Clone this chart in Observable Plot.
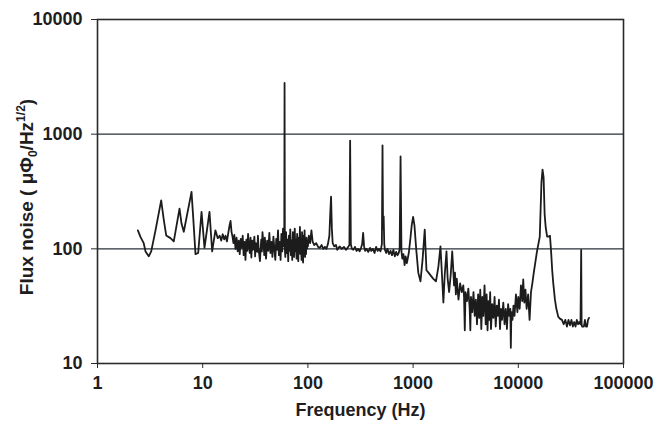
<!DOCTYPE html>
<html><head><meta charset="utf-8">
<script src="https://cdn.jsdelivr.net/npm/d3@7"></script>
<script src="https://cdn.jsdelivr.net/npm/@observablehq/plot@0.6"></script>
<style>body{margin:0;background:#fff;}</style>
</head><body><div id="chart"></div>
<script>
// Frequency (Hz) and flux noise (µΦ0/Hz^1/2)
const freqHz = [
 2.42,2.56,2.75,2.86,3.07,3.24,3.56,4.03,4.27,4.5,4.94,5.31,6.02,6.29,6.61,7.83,8.12,8.54,9.06,9.75,10.4,11.6,12.3,13.2,13.9,
 14.5,15,15.5,16,16.5,17,17.5,18,18.4,18.8,19.2,19.6,20,20.5,21,21.5,22,22.5,23,23.5,24,24.5,25,25.5,26,26.5,27,27.5,28,28.5,29,29.5,30,
 31,31.5,32,33,33.5,34,35,36,36.5,37,38,38.5,39,40,41,42,43,44,45,46,47,48,49,50,51,52,53,54,55,56,57,58,59,59.6,60,60.4,
 61,62,63,64,65,66,67,68,69,70,71,72,73,74,75,76,77,78,79,80,81,82,83,84,85,86,87,88,89,90,91,92,93,94,95,96,97,98,99,100,
 102,105,108,111,115,120,125,130,135,140,145,150,155,160,163,166,169,172,178,185,190,200,210,220,230,240,248,252,256,
 262,270,280,290,300,310,320,328,335,342,350,360,375,390,400,415,430,445,460,475,490,505,512,518,525,532,540,555,570,
 590,610,630,650,670,690,710,730,745,760,775,790,810,830,850,870,880,910,940,970,1000,1030,1070,1120,1175,1230,1290,
 1340,1400,1460,1550,1650,1740,1820,1880,1940,2000,2077,2130,2200,2280,2354,2400,2450,2500,2550,2600,2700,2800,2900,
 3000,3050,3100,3150,3250,3350,3450,3500,3550,3650,3750,3850,3950,4050,4150,4250,4350,4450,4550,4650,4775,4900,5000,
 5100,5200,5300,5400,5500,5650,5800,5950,6100,6250,6400,6550,6700,6850,7000,7200,7400,7600,7800,8000,8200,8400,8490,
 8600,8800,9000,9200,9500,9800,10000,10300,10600,10900,11140,11400,11700,12000,12400,12800,13200,13600,14000,15000,
 16000,16600,17000,17400,17800,18200,18800,19400,20000,20500,21000,21500,22300,23000,24000,25000,26000,27000,28000,
 29000,30000,31000,32000,33000,34000,35000,36000,37000,38000,39000,39600,40000,40400,41000,42000,43000,44000,45000,
 46000,47000,48000
];
const fluxNoise = [
 145,127,112,95,86,95,145,265,178,131,124,116,224,166,141,314,189,90,92,210,102,210,95,145,124,
 130,118,134,121,130,116,137,160,175,140,128,112,132,100,125,95,118,90,122,102,130,88,115,80,120,96,135,105,92,125,84,118,98,
 128,86,112,94,130,100,78,120,95,140,105,88,125,82,118,96,138,92,115,85,128,100,80,122,98,145,88,115,80,135,95,150,105,110,2800,100,
 85,140,92,120,78,130,96,148,88,118,80,140,100,85,150,95,120,82,135,105,78,125,92,155,90,115,80,140,100,76,130,95,145,85,110,90,125,100,115,105,
 130,112,145,115,108,112,104,102,108,100,104,100,110,130,200,285,150,112,105,108,98,105,100,104,98,103,108,880,110,
 100,98,104,96,100,95,102,110,138,105,96,100,94,102,96,100,92,104,96,100,95,110,800,150,192,110,98,92,100,
 90,96,88,98,86,94,88,92,100,640,95,82,90,72,86,75,78,92,120,160,190,160,100,62,52,80,147,
 65,62,59,55,52,70,105,60,34,60,95,55,42,60,95,70,48,62,40,55,36,50,42,
 48,38,19.5,42,35,45,30,19.5,38,28,42,26,36,22,40,25,44,20,38,26,48,22,40,
 19.5,35,24,42,20,33,25,38,21,32,26,36,20,30,24,34,22,30,20,33,26,30,13.7,
 28,24,32,26,40,28,38,30,48,35,54,34,44,30,40,24,42,50,61,93,
 128,380,490,420,200,155,128,128,130,95,65,50,36,30,25.5,24.5,24,22,24,
 21,24,21.5,24,21,23,21,24,22,23,22,98,22,21,21,21,24,21,
 21,24,25
];
const xTicks = [1, 10, 100, 1000, 10000, 100000];
const yTicks = [10, 100, 1000, 10000];
const gridLevels = [100, 1000];
const xTitle = "Frequency (Hz)";

const data = freqHz.map((f, i) => ({f, v: fluxNoise[i]}));

const plot = Plot.plot({
  width: 659, height: 426,
  marginLeft: 97, marginRight: 36, marginTop: 19, marginBottom: 63,
  style: {fontFamily: "'Liberation Sans', Arial, sans-serif", fontSize: "18px", fontWeight: "bold", color: "#1e1e1e", background: "#fff"},
  x: {type: "log", domain: [1, 100000]},
  y: {type: "log", domain: [10, 10000]},
  marks: [
    Plot.ruleY(gridLevels, {stroke: "#28303a", strokeWidth: 1.2}),
    Plot.frame({stroke: "#2a2a2a", strokeWidth: 1.6}),
    Plot.axisY({ticks: yTicks, tickFormat: d => String(d), tickSize: 6, tickPadding: 9, label: null, stroke: "#2a2a2a"}),
    Plot.axisX({ticks: xTicks, tickFormat: d => String(d), tickSize: 5, tickPadding: 8, label: xTitle, labelAnchor: "center", labelArrow: "none", labelOffset: 52, stroke: "#2a2a2a"}),
    Plot.line(data, {x: "f", y: "v", stroke: "#1c1c1c", strokeWidth: 1.8})
  ]
});

const svg = d3.select(plot);
const t = svg.append("text")
  .attr("transform", "translate(26,197) rotate(-90)")
  .attr("text-anchor", "middle")
  .attr("dy", "0.35em")
  .attr("font-size", "19px")
  .attr("fill", "#1e1e1e");
t.append("tspan").text("Flux noise ( μΦ");
t.append("tspan").attr("font-size", "12px").attr("dy", "4").text("0");
t.append("tspan").attr("dy", "-4").text("/Hz");
t.append("tspan").attr("font-size", "12px").attr("dy", "-8").text("1/2");
t.append("tspan").attr("dy", "8").text(")");

document.getElementById("chart").append(plot);
</script>
</body></html>
